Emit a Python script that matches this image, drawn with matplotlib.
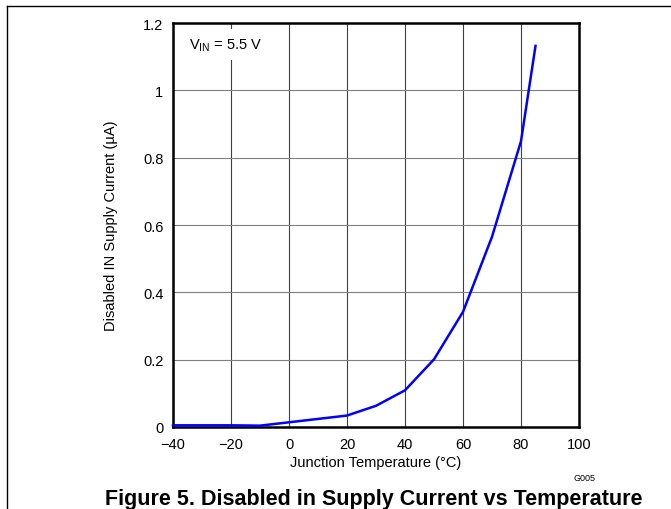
import matplotlib
matplotlib.use('Agg')
import matplotlib.pyplot as plt

plt.rcParams['font.family'] = ['Liberation Sans', 'DejaVu Sans']

# junction temperature (degC) and disabled IN supply current (uA)
temp_c = [-40, -20, -10, 0, 20, 30, 40, 50, 60, 70, 80, 85]
current_ua = [0.005, 0.005, 0.004, 0.014, 0.034, 0.063, 0.109, 0.201, 0.342, 0.565, 0.849, 1.132]

x_ticks = [-40, -20, 0, 20, 40, 60, 80, 100]
x_ticklabels = ['\u221240', '\u221220', '0', '20', '40', '60', '80', '100']
y_ticks = [0, 0.2, 0.4, 0.6, 0.8, 1.0, 1.2]
y_ticklabels = ['0', '0.2', '0.4', '0.6', '0.8', '1', '1.2']

fig = plt.figure(figsize=(6.71, 5.10), dpi=100)
ax = fig.add_axes([173 / 671, 1 - 428 / 510, 406 / 671, 404 / 510])

ax.plot(temp_c, current_ua, color='#0000ff', linewidth=1.8, zorder=3, clip_on=False)

ax.set_xlim(-40, 100)
ax.set_ylim(0, 1.2)
ax.set_xticks(x_ticks)
ax.set_xticklabels(x_ticklabels)
ax.set_yticks(y_ticks)
ax.set_yticklabels(y_ticklabels)
ax.tick_params(length=0, labelsize=10.5)
ax.tick_params(axis='x', pad=7)
ax.tick_params(axis='y', pad=7)

ax.grid(True, axis='x', color='#404040', linewidth=0.8)
ax.grid(True, axis='y', color='#7f7f7f', linewidth=0.8)
ax.set_axisbelow(True)
for s in ax.spines.values():
    s.set_linewidth(1.8)
    s.set_color('black')

ax.set_xlabel('Junction Temperature (\u00b0C)', fontsize=10.5, labelpad=3)
ax.set_ylabel('Disabled IN Supply Current (\u00b5A)', fontsize=10.5, labelpad=18)

ax.text(0.04, 0.968, r'V$_{\mathregular{IN}}$ = 5.5 V', transform=ax.transAxes,
        fontsize=10.5, ha='left', va='top', zorder=2,
        bbox=dict(facecolor='white', edgecolor='none', pad=5))

fig.text(585 / 671, 1 - 479 / 510, 'G005', fontsize=6.5, ha='center', va='center')
fig.text(374 / 671, 1 - 505 / 510, 'Figure 5. Disabled in Supply Current vs Temperature',
         fontsize=15.5, fontweight='bold', ha='center', va='baseline')

# page border lines
fig.add_artist(plt.Line2D([7 / 671, 1], [1 - 7 / 510, 1 - 7 / 510], color='black', linewidth=1))
fig.add_artist(plt.Line2D([7 / 671, 7 / 671], [0, 1 - 7 / 510], color='black', linewidth=1))

fig.savefig('out.png', dpi=100)
